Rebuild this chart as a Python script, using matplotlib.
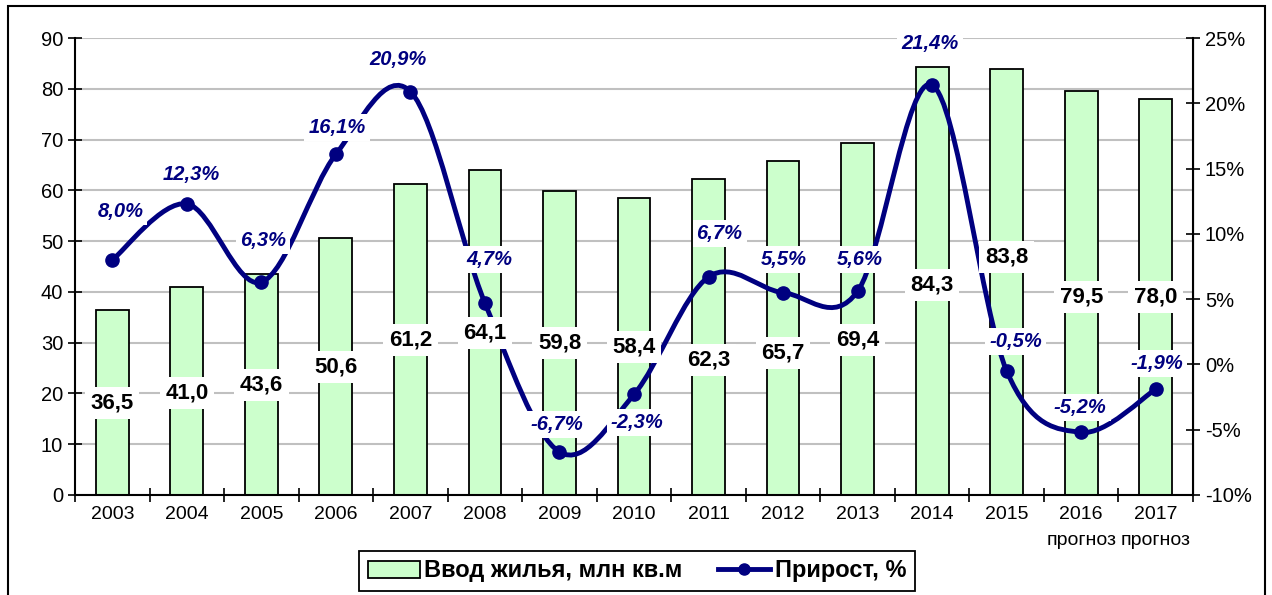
import numpy as np
import matplotlib
matplotlib.use("Agg")
import matplotlib.pyplot as plt
from matplotlib.path import Path
from matplotlib.patches import PathPatch, Rectangle, Patch
from matplotlib.lines import Line2D
from matplotlib.ticker import FuncFormatter

plt.rcParams['font.family'] = ['Liberation Sans', 'DejaVu Sans']

# data
years = ['2003', '2004', '2005', '2006', '2007', '2008', '2009', '2010',
         '2011', '2012', '2013', '2014', '2015', '2016', '2017']
forecast = ['', '', '', '', '', '', '', '', '', '', '', '', '', 'прогноз', 'прогноз']
housing = [36.5, 41.0, 43.6, 50.6, 61.2, 64.1, 59.8, 58.4, 62.3, 65.7, 69.4,
           84.3, 83.8, 79.5, 78.0]
growth = [8.0, 12.3, 6.3, 16.1, 20.9, 4.7, -6.7, -2.3, 6.7, 5.5, 5.6, 21.4,
          -0.5, -5.2, -1.9]

# where the value labels sit (left axis units) and percent label offsets (px)
bar_label_y = [18.1, 20.1, 21.7, 25.2, 30.5, 31.9, 29.9, 29.1, 26.6, 28.0,
               30.5, 41.3, 46.9, 39.0, 39.0]
pct_offsets = [(8, 48), (4, 29), (2, 42), (1, 27), (-12, 32), (4, 44),
               (-3, 27), (3, -28), (11, 43), (1, 33), (2, 32), (-2, 42),
               (9, 29), (-1, 25), (1, 26)]

navy = '#000080'
x = np.arange(len(years))

fig = plt.figure(figsize=(12.72, 5.95), dpi=100)
ax = fig.add_axes([75 / 1272, 1 - 495 / 595, (1193 - 75) / 1272, (495 - 38) / 595])
ax2 = ax.twinx()

# outer frame
fig.patches.append(Rectangle((8 / 1272, -0.05), (1265 - 8) / 1272, 1 - 6 / 595 + 0.05,
                             transform=fig.transFigure, fill=False,
                             edgecolor='black', linewidth=1.5))

# bars
ax.bar(x, housing, width=0.44, color='#ccffcc', edgecolor='black', linewidth=1.3, zorder=2)
ax.set_xlim(-0.5, len(years) - 0.5)
ax.set_ylim(0, 90)
ax.set_yticks(np.arange(0, 91, 10))
ax.grid(axis='y', color='#c0c0c0', linewidth=1.5, zorder=0)
ax.set_axisbelow(True)

ax.set_xticks(x)
ax.set_xticklabels(years, fontsize=14)
ax.set_xticks(np.arange(-0.5, len(years)), minor=True)
ax.tick_params(axis='x', which='major', length=0, pad=8)
ax.tick_params(axis='x', which='minor', length=10, width=1.2, direction='inout')
ax.tick_params(axis='y', labelsize=14.5, length=10, width=1.2, direction='inout')
for xi, lab in zip(x, forecast):
    if lab:
        ax.text(xi, -0.1, lab, transform=ax.get_xaxis_transform(), ha='center',
                va='center', fontsize=14)

ax.spines['top'].set_visible(False)
ax2.spines['top'].set_visible(False)
ax.spines['left'].set_linewidth(1.5)
ax.spines['bottom'].set_linewidth(1.5)
ax2.spines['right'].set_linewidth(1.5)
ax2.spines['left'].set_visible(False)
ax2.spines['bottom'].set_visible(False)

# smoothed growth line (Excel-like bezier through points)
ax2.set_ylim(-10, 25)
ax2.set_yticks(np.arange(-10, 26, 5))
ax2.yaxis.set_major_formatter(FuncFormatter(lambda v, p: '{:.0f}%'.format(v)))
ax2.tick_params(axis='y', labelsize=14.5, length=10, width=1.2, direction='inout')

pts = np.column_stack([x, growth]).astype(float)
verts = [tuple(pts[0])]
codes = [Path.MOVETO]
n = len(pts)
for i in range(n - 1):
    p0 = pts[i - 1] if i > 0 else pts[i]
    p1 = pts[i]
    p2 = pts[i + 1]
    p3 = pts[i + 2] if i + 2 < n else pts[i + 1]
    c1 = p1 + (p2 - p0) / 6.0
    c2 = p2 - (p3 - p1) / 6.0
    verts += [tuple(c1), tuple(c2), tuple(p2)]
    codes += [Path.CURVE4] * 3
ax2.add_patch(PathPatch(Path(verts, codes), fill=False, edgecolor=navy,
                        linewidth=3.5, zorder=3, capstyle='round'))
ax2.plot(x, growth, 'o', color=navy, markersize=9.5, zorder=4)

# value labels
for xi, v, ly in zip(x, housing, bar_label_y):
    ax2.text(xi, ly, '{:.1f}'.format(v).replace('.', ','), transform=ax.transData,
             ha='center', va='center', fontsize=16, fontweight='bold', zorder=6,
             bbox=dict(boxstyle='square,pad=0.25', facecolor='white', edgecolor='none'))

for xi, g, (dx, dy) in zip(x, growth, pct_offsets):
    ax2.annotate('{:.1f}%'.format(g).replace('.', ','), xy=(xi, g),
                 xytext=(dx, dy), textcoords='offset pixels', ha='center', va='center',
                 fontsize=14.5, fontweight='bold', fontstyle='italic', color=navy, zorder=6,
                 bbox=dict(boxstyle='square,pad=0.2', facecolor='white', edgecolor='none'))

# legend
handles = [Patch(facecolor='#ccffcc', edgecolor='black', linewidth=1.3),
           Line2D([0], [0], color=navy, linewidth=3.5, marker='o', markersize=8)]
leg = fig.legend(handles, ['Ввод жилья, млн кв.м', 'Прирост, %'],
                 loc='center', bbox_to_anchor=(637 / 1272, 1 - 571 / 595), ncol=2,
                 fancybox=False, edgecolor='black', framealpha=1,
                 prop={'size': 17, 'weight': 'bold'},
                 handlelength=2.2, handletextpad=0.2, columnspacing=1.5, borderpad=0.35)
leg.get_frame().set_linewidth(1.3)

fig.savefig('out.png', dpi=100)
